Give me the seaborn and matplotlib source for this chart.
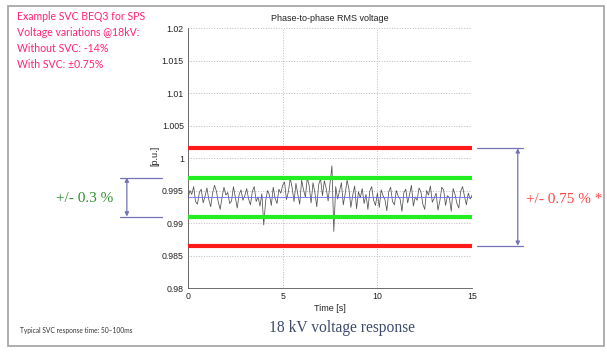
import numpy as np
import pandas as pd
import matplotlib
matplotlib.use("Agg")
import matplotlib.pyplot as plt
import matplotlib.patches as patches
from matplotlib.transforms import blended_transform_factory
import seaborn as sns

# Datos (tension RMS fase-fase, p.u., cada 0.1 s)
voltage = [
    0.9938, 0.9950, 0.9944, 0.9956, 0.9933, 0.9929, 0.9947, 0.9952, 0.9931, 0.9941, 0.9954,
    0.9936, 0.9925, 0.9946, 0.9958, 0.9949, 0.9932, 0.9921, 0.9940, 0.9955, 0.9943,
    0.9947, 0.9930, 0.9934, 0.9956, 0.9939, 0.9923, 0.9944, 0.9951, 0.9935, 0.9942,
    0.9953, 0.9937, 0.9928, 0.9949, 0.9956, 0.9933, 0.9940, 0.9926, 0.9945, 0.9897,
    0.9934, 0.9950, 0.9943, 0.9927, 0.9955, 0.9938, 0.9930, 0.9952, 0.9946, 0.9958,
    0.9963, 0.9936, 0.9948, 0.9969, 0.9954, 0.9933, 0.9961, 0.9944, 0.9929, 0.9966,
    0.9951, 0.9940, 0.9970, 0.9957, 0.9931, 0.9962, 0.9947, 0.9925, 0.9959, 0.9968,
    0.9942, 0.9965, 0.9953, 0.9934, 0.9961, 0.9988, 0.9887, 0.9956, 0.9937, 0.9949,
    0.9962, 0.9928, 0.9945, 0.9966, 0.9952, 0.9924, 0.9943, 0.9957, 0.9922, 0.9948,
    0.9939, 0.9953, 0.9930, 0.9944, 0.9921, 0.9949, 0.9956, 0.9935, 0.9927, 0.9946,
    0.9924, 0.9951, 0.9942, 0.9936, 0.9919, 0.9948, 0.9955, 0.9933, 0.9928, 0.9950,
    0.9941, 0.9937, 0.9918, 0.9947, 0.9952, 0.9931, 0.9944, 0.9958, 0.9926, 0.9940,
    0.9935, 0.9954, 0.9948, 0.9929, 0.9921, 0.9950, 0.9943, 0.9957, 0.9932, 0.9938,
    0.9946, 0.9920, 0.9934, 0.9955, 0.9951, 0.9927, 0.9942, 0.9939, 0.9918, 0.9953,
    0.9944, 0.9930, 0.9923, 0.9949, 0.9956, 0.9941, 0.9928, 0.9946, 0.9937, 0.9943,
]
time = np.linspace(0, 15, len(voltage))

mean_level = 0.9940
svc_band = [0.991, 0.997]        # +/- 0.3 %
limit_band = [0.9865, 1.0015]    # +/- 0.75 %

y_ticks = [0.98, 0.985, 0.99, 0.995, 1.0, 1.005, 1.01, 1.015, 1.02]
y_labels = ["0.98", "0.985", "0.99", "0.995", "1", "1.005", "1.01", "1.015", "1.02"]
x_ticks = [0, 5, 10, 15]

df = pd.DataFrame({"t": time, "v": voltage})

sns.set_style("white")
plt.rcParams["font.family"] = ["Liberation Sans", "DejaVu Sans"]

fig = plt.figure(figsize=(6.07, 3.52), dpi=100)
ax = fig.add_axes([0.3097, 0.1818, 0.468, 0.7386])

# bandas
for lvl in limit_band:
    ax.axhline(lvl, color="#ff1a1a", lw=3, zorder=4)
for lvl in svc_band:
    ax.axhline(lvl, color="#22ee22", lw=3, zorder=4)
ax.axhline(mean_level, color="#6b6bff", lw=0.6, zorder=3)

sns.lineplot(data=df, x="t", y="v", ax=ax, color="#505050", lw=0.55, zorder=2)

ax.set_xlim(0, 15)
ax.set_ylim(0.98, 1.02)
ax.set_xticks(x_ticks)
ax.set_xticklabels([str(x) for x in x_ticks])
ax.set_yticks(y_ticks)
ax.set_yticklabels(y_labels)
ax.tick_params(labelsize=6.3, colors="#222222", length=2, width=0.5, pad=1)
ax.grid(True, color="#bbbbbb", ls=":", lw=0.7)
for s in ["top", "right"]:
    ax.spines[s].set_visible(False)
for s in ["left", "bottom"]:
    ax.spines[s].set_color("#555555")
    ax.spines[s].set_linewidth(0.6)

ax.set_title("Phase-to-phase RMS voltage", fontsize=6.5, pad=5, color="#222222")
ax.set_xlabel("Time [s]", fontsize=6.5, labelpad=2, color="#222222")
ax.set_ylabel("[p.u.]", fontsize=6.5, color="#222222")
ax.yaxis.set_label_coords(-0.1, 0.51)

# anotaciones de las bandas (x en figura, y en datos)
tr = blended_transform_factory(fig.transFigure, ax.transData)
navy = "#7474b4"
for lvl in svc_band:
    ax.plot([0.198, 0.267], [lvl, lvl], color=navy, lw=0.9, transform=tr, clip_on=False)
ax.annotate("", xy=(0.209, svc_band[0]), xytext=(0.209, svc_band[1]),
            xycoords=tr, textcoords=tr,
            arrowprops=dict(arrowstyle="<|-|>", color=navy, lw=0.9,
                            mutation_scale=6, shrinkA=0, shrinkB=0))
fig.text(0.14, 0.437, "+/- 0.3 %", color="#2f8f2f", fontsize=11,
         family=["Liberation Serif"], ha="center", va="center")

for lvl in limit_band:
    ax.plot([0.786, 0.862], [lvl, lvl], color=navy, lw=0.9, transform=tr, clip_on=False)
ax.annotate("", xy=(0.853, limit_band[0]), xytext=(0.853, limit_band[1]),
            xycoords=tr, textcoords=tr,
            arrowprops=dict(arrowstyle="<|-|>", color=navy, lw=0.9,
                            mutation_scale=6, shrinkA=0, shrinkB=0))
fig.text(0.929, 0.432, "+/- 0.75 % *", color="#ff4444", fontsize=11,
         family=["Liberation Serif"], ha="center", va="center")

# textos de la diapositiva
pink = "#ff2277"
info = ["Example SVC BEQ3 for SPS", "Voltage variations @18kV:",
        "Without SVC: -14%", "With SVC: \u00b10.75%"]
for i, line in enumerate(info):
    fig.text(0.028, 0.952 - i * 0.045, line, color=pink, fontsize=7.6,
             family=["Lato", "DejaVu Sans"], va="center")

fig.text(0.563, 0.068, "18 kV voltage response", color="#3c4a6a", fontsize=11.2,
         family=["Liberation Serif"], ha="center", va="center")
fig.text(0.033, 0.06, "Typical SVC response time: 50\u2013100ms", color="#333333",
         fontsize=4.8, family=["Lato", "DejaVu Sans"], va="center")

# marco de la diapositiva
fig.add_artist(patches.Rectangle((0.014, 0.017), 0.981, 0.966, transform=fig.transFigure,
                                 fill=False, edgecolor="#a8a8a8", lw=1.3))

fig.savefig("out.png", dpi=100)
